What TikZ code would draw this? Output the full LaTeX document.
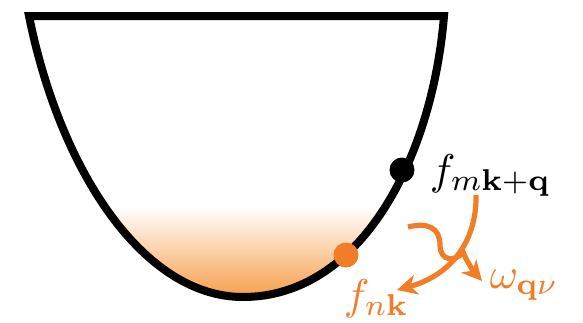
\documentclass[tikz,border=0pt]{standalone}
\usepackage{amsmath}
\usepackage{xcolor}
\usepackage{tikz}
\usetikzlibrary{arrows.meta}
\definecolor{phorange}{RGB}{243,124,38}
\definecolor{seaorange}{RGB}{247,156,70}

\begin{document}
\begin{tikzpicture}[x=0.5pt, y=-0.5pt,
  every node/.style={inner sep=0pt},
  lbl/.style={scale=2.15, anchor=base west},
  state/.style={circle, minimum size=12.5pt},
  flow/.style={draw=phorange, line width=2.6pt, -{Stealth[length=10pt,width=10pt,inset=3pt]}}]
  \useasboundingbox (0,0) rectangle (583,322);
  % band filling
  \begin{scope}
    \clip (29,16) -- (444,16) .. controls (432,160) and (360,297) .. (243,297)
          .. controls (143,297) and (60,170) .. (29,16) -- cycle;
    \shade[top color=white, bottom color=seaorange] (0,206) rectangle (583,300);
  \end{scope}
  \draw[line width=4pt, line join=miter] (29,16) -- (444,16)
        .. controls (432,160) and (360,297) .. (243,297)
        .. controls (143,297) and (60,170) .. (29,16) -- cycle;
  % states
  \node[state, fill=black] (mkq) at (402,170) {};
  \node[state, fill=phorange] (nk) at (346,255) {};
  \node[lbl] (lblmkq) at (429,184) {$f_{m\mathbf{k}+\mathbf{q}}$};
  \node[lbl, text=phorange] (lblnk) at (343,309) {$f_{n\mathbf{k}}$};
  \node[lbl, text=phorange] (lblph) at (489,288) {$\omega_{\mathbf{q}\nu}$};
  % scattering
  \coordinate (estart) at (476,195);
  \coordinate (eend) at (397,290);
  \coordinate (pstart) at (408,227);
  \coordinate (pend) at (482,281);
  \draw[flow] (estart) .. controls (477,240) and (452,275) .. (eend);
  \draw[flow] (pstart) .. controls (428,222) and (440,228) .. (440,245)
        .. controls (440,262) and (456,262) .. (463,252)
        .. controls (467,262) and (474,272) .. (pend);
\end{tikzpicture}
\end{document}
